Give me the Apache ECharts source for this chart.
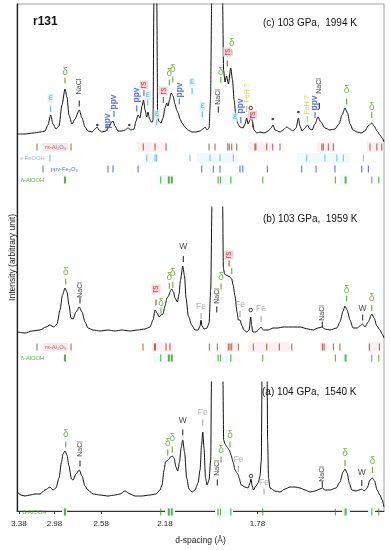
<!DOCTYPE html>
<html><head><meta charset="utf-8">
<script src="https://cdn.jsdelivr.net/npm/echarts@6/dist/echarts.min.js"></script>
<style>html,body{margin:0;padding:0;background:#fff}#c{width:390px;height:550px}</style>
</head><body><div id="c"></div>
<script>
// x data: inverse d-spacing q = 1/d (1/Å); labels shown as d-spacing
const Q_MIN = 0.2938, Q_MAX = 0.7028;
const dTicks = [3.38, 2.98, 2.58, 2.18, 1.78];

// spectra [q, intensity (stacked, arbitrary)]
const specC = [[0.2941,385],[0.3027,385],[0.3116,386],[0.3194,387],[0.3250,388],[0.3283,394],[0.3313,404],[0.3339,395],[0.3373,390],[0.3406,393],[0.3439,414],[0.3473,430],[0.3495,422],[0.3517,404],[0.3551,395],[0.3584,400],[0.3632,409],[0.3662,401],[0.3696,392],[0.3729,388],[0.3774,387],[0.3807,390],[0.3830,392],[0.3852,389],[0.3885,387],[0.3930,388],[0.3963,392],[0.3986,396],[0.4008,398],[0.4030,393],[0.4064,388],[0.4108,388],[0.4142,389],[0.4175,391],[0.4209,389],[0.4242,390],[0.4264,398],[0.4287,404],[0.4309,401],[0.4331,413],[0.4348,419],[0.4365,409],[0.4384,402],[0.4398,407],[0.4415,400],[0.4432,397],[0.4448,397],[0.4454,399],[0.4464,520],[0.4480,800],[0.4496,520],[0.4505,405],[0.4516,398],[0.4543,396],[0.4565,401],[0.4587,411],[0.4607,416],[0.4621,413],[0.4638,419],[0.4655,426],[0.4677,423],[0.4699,415],[0.4718,409],[0.4733,406],[0.4755,400],[0.4777,396],[0.4810,392],[0.4844,389],[0.4889,387],[0.4933,387],[0.4978,388],[0.5011,390],[0.5033,392],[0.5056,389],[0.5078,391],[0.5095,420],[0.5108,520],[0.5167,900],[0.5229,520],[0.5240,449],[0.5256,437],[0.5273,443],[0.5294,435],[0.5320,451],[0.5340,439],[0.5357,419],[0.5379,402],[0.5401,395],[0.5423,392],[0.5459,391],[0.5479,395],[0.5498,401],[0.5513,395],[0.5535,399],[0.5546,404],[0.5563,397],[0.5580,389],[0.5610,386],[0.5646,387],[0.5691,386],[0.5736,388],[0.5769,391],[0.5792,394],[0.5813,389],[0.5869,387],[0.5903,389],[0.5944,392],[0.5980,390],[0.6015,388],[0.6048,391],[0.6074,401],[0.6092,393],[0.6115,388],[0.6148,391],[0.6174,394],[0.6203,390],[0.6226,389],[0.6259,395],[0.6293,402],[0.6323,397],[0.6370,391],[0.6426,389],[0.6482,390],[0.6527,395],[0.6561,404],[0.6593,411],[0.6622,406],[0.6649,395],[0.6683,389],[0.6728,387],[0.6773,386],[0.6816,388],[0.6851,393],[0.6892,396],[0.6918,393],[0.6951,388],[0.6983,384],[0.7007,381],[0.7028,377]];
const specB = [[0.2941,187],[0.3027,186],[0.3105,188],[0.3194,189],[0.3261,192],[0.3305,194],[0.3350,192],[0.3384,195],[0.3417,209],[0.3445,224],[0.3473,231],[0.3495,227],[0.3517,214],[0.3540,201],[0.3562,200],[0.3595,207],[0.3632,212],[0.3662,207],[0.3696,197],[0.3729,191],[0.3785,189],[0.3863,188],[0.3952,189],[0.4030,188],[0.4108,189],[0.4197,188],[0.4287,189],[0.4365,190],[0.4420,192],[0.4454,199],[0.4476,209],[0.4498,206],[0.4524,202],[0.4543,204],[0.4565,205],[0.4587,213],[0.4610,221],[0.4627,223],[0.4643,227],[0.4662,230],[0.4682,227],[0.4699,221],[0.4725,217],[0.4744,225],[0.4760,239],[0.4785,253],[0.4805,243],[0.4822,221],[0.4847,203],[0.4885,194],[0.4922,189],[0.4956,189],[0.4978,193],[0.4989,199],[0.5000,193],[0.5022,190],[0.5056,191],[0.5078,196],[0.5097,229],[0.5112,320],[0.5167,700],[0.5229,320],[0.5238,251],[0.5251,245],[0.5268,244],[0.5290,243],[0.5312,242],[0.5331,240],[0.5346,234],[0.5368,223],[0.5390,207],[0.5405,199],[0.5423,199],[0.5446,193],[0.5466,189],[0.5498,187],[0.5524,189],[0.5543,202],[0.5554,193],[0.5565,187],[0.5602,187],[0.5636,190],[0.5658,192],[0.5683,189],[0.5736,189],[0.5792,191],[0.5847,191],[0.5903,192],[0.5980,192],[0.6092,192],[0.6182,190],[0.6238,189],[0.6293,191],[0.6335,192],[0.6370,190],[0.6426,189],[0.6502,191],[0.6537,197],[0.6572,208],[0.6593,213],[0.6617,209],[0.6649,199],[0.6683,191],[0.6728,191],[0.6760,193],[0.6789,195],[0.6816,192],[0.6851,197],[0.6892,205],[0.6918,201],[0.6948,193],[0.6983,189],[0.7007,185],[0.7028,181]];
const specA = [[0.2941,27],[0.2982,24],[0.3027,23],[0.3083,24],[0.3138,25],[0.3194,25],[0.3250,29],[0.3305,32],[0.3339,29],[0.3373,31],[0.3406,41],[0.3434,57],[0.3451,65],[0.3473,68],[0.3495,64],[0.3517,53],[0.3545,40],[0.3562,39],[0.3595,45],[0.3632,49],[0.3662,43],[0.3696,33],[0.3729,29],[0.3785,25],[0.3863,24],[0.3952,23],[0.4030,24],[0.4086,25],[0.4142,28],[0.4197,25],[0.4253,23],[0.4331,23],[0.4420,24],[0.4487,25],[0.4532,29],[0.4554,34],[0.4577,49],[0.4593,57],[0.4618,59],[0.4632,60],[0.4649,62],[0.4669,63],[0.4688,61],[0.4710,52],[0.4729,48],[0.4749,57],[0.4766,71],[0.4785,79],[0.4805,67],[0.4829,41],[0.4855,30],[0.4889,27],[0.4922,29],[0.4956,36],[0.4978,49],[0.4995,74],[0.5008,87],[0.5022,71],[0.5039,41],[0.5056,34],[0.5078,39],[0.5097,59],[0.5106,145],[0.5167,450],[0.5232,145],[0.5241,79],[0.5256,75],[0.5279,72],[0.5304,69],[0.5323,64],[0.5346,57],[0.5368,49],[0.5390,46],[0.5405,44],[0.5413,41],[0.5437,34],[0.5479,32],[0.5513,31],[0.5535,36],[0.5546,40],[0.5557,34],[0.5572,29],[0.5602,33],[0.5624,36],[0.5646,43],[0.5661,59],[0.5669,145],[0.5697,450],[0.5725,145],[0.5731,79],[0.5741,41],[0.5758,31],[0.5813,28],[0.5869,27],[0.5925,30],[0.5980,32],[0.6036,32],[0.6092,31],[0.6148,29],[0.6203,27],[0.6259,28],[0.6315,30],[0.6341,31],[0.6370,29],[0.6426,29],[0.6494,31],[0.6537,37],[0.6572,47],[0.6593,50],[0.6617,46],[0.6644,35],[0.6669,29],[0.6717,28],[0.6750,29],[0.6780,30],[0.6806,28],[0.6840,31],[0.6872,39],[0.6899,41],[0.6923,38],[0.6951,29],[0.6983,24],[0.7007,19],[0.7028,12]];

// reference reflection positions (q)
const rsC = [0.3161,0.3540,0.4346,0.4476,0.4599,0.5078,0.5145,0.5287,0.5304,0.5331,0.5387,0.5590,0.5600,0.5721,0.5788,0.5869,0.6335,0.6352,0.6408,0.6464,0.6872,0.6948,0.7003];
const epsC = [0.3305,0.4384,0.4476,0.4493,0.4866,0.5089,0.5200,0.5349,0.6167,0.6370,0.6502,0.6575,0.6798];
const ppvC = [0.3228,0.3952,0.4008,0.4287,0.4997,0.5126,0.5200,0.5423,0.5454,0.5728,0.6111,0.6271,0.6482,0.6780,0.6854];
const deltaRef = [0.3467,0.3478,0.4540,0.4625,0.4635,0.4658,0.4668,0.5179,0.5206,0.5321,0.5677,0.6486,0.6595,0.6605,0.6892,0.6970];
const rsB = [0.3161,0.3540,0.4342,0.4470,0.4481,0.4599,0.4643,0.5082,0.5171,0.5294,0.5312,0.5331,0.5405,0.5572,0.5721,0.5862,0.6000,0.6341,0.6360,0.6464,0.6537,0.6865,0.6977];

// highlighted q ranges in the reflection rows
const hlRsC = [[0.4275,0.4621],[0.5513,0.5780],[0.6282,0.6482],[0.6840,0.7019]];
const hlEpsC = [[0.4387,0.4510],[0.4944,0.5401],[0.6059,0.6649]];
const hlDeltaC = [[0.4498,0.4699],[0.5167,0.5346],[0.6537,0.6649]];
const hlRsB = [[0.4443,0.4677],[0.5257,0.5390],[0.5513,0.5981],[0.6315,0.6394],[0.6851,0.7007]];
const hlDeltaB = [[0.4454,0.4677],[0.5145,0.5346],[0.6561,0.6649]];
const hlDeltaA = [[0.3439,0.3495],[0.4588,0.4699],[0.5145,0.5346],[0.6561,0.6649],[0.6851,0.6929]];

// peak annotations: [kind, q, label level, tick level]
const annC = [['eps',0.3313,421,410],['delta',0.3473,447,438.5],['nacl',0.3632,432.5,415.5],['ppv',0.3944,398,391],['ppv',0.4019,417,405],['ppv',0.4272,424,410.5],['rs',0.4353,434,426],['eps',0.4395,424,416.5],['eps',0.4495,405,396.5],['rs',0.4569,428,419],['delta',0.4636,446,436.5],['delta',0.4674,450,439.5],['ppv',0.4747,429,417.5],['eps',0.4889,437,428],['eps',0.5004,413,404.5],['nacl',0.5182,422,409.5],['delta',0.5209,447,439],['rs',0.5282,467,455.5],['delta',0.5331,476,466.5],['eps',0.5368,402,null],['ppv',0.5432,413,399],['feh',0.5498,426,410],['o',0.5543,411,null],['rs',0.5563,404,394.5],['star',0.3833,394,null],['star',0.4190,394,null],['star',0.5788,400,null],['star',0.6074,407,null],['feh',0.6174,414,400],['ppv',0.6259,416,404],['nacl',0.6308,433,413],['delta',0.6611,429,417.5],['delta',0.6892,412,404]];
const annB = [['delta',0.3481,247,237.5],['nacl',0.3640,229,218.5],['rs',0.4487,230,216.5],['delta',0.4543,216,208.5],['delta',0.4636,242,233],['delta',0.4674,246,234],['w',0.4792,272,260],['fe',0.4989,212,203],['nacl',0.5164,223,209.5],['delta',0.5212,242,232.5],['rs',0.5301,264,255.5],['delta',0.5331,null,248],['fe',0.5423,214,205],['o',0.5543,209,null],['fe',0.5658,210,200],['nacl',0.6341,206,194.5],['delta',0.6611,229,220.5],['w',0.6789,210,201.5],['delta',0.6892,221,211]];
const annA = [['delta',0.3481,85,74.5],['nacl',0.3640,70,55.5],['delta',0.4618,76,66.5],['delta',0.4669,81,69.5],['w',0.4785,98,86.5],['fe',0.5008,106,96.5],['nacl',0.5171,51,36.5],['delta',0.5212,69,59.5],['delta',0.5312,84,74.5],['fe',0.5405,59,50],['o',0.5546,43,null],['fe',0.5691,36,27.5],['nacl',0.6341,45,34.5],['delta',0.6593,66,56],['w',0.6780,46,36],['delta',0.6899,58,49]];

// phase row labels: [kind, text, q, level]
const rowLabC = [['rs','rs-Al₂O₃',0.3222,372],['eps','ε-FeOOH',0.2945,361],['ppv','ppv-Fe₂O₃',0.3286,350],['delta','δ-AlOOH',0.2952,339]];
const rowLabB = [['rs','rs-Al₂O₃',0.3222,172],['delta','δ-AlOOH',0.2952,161]];
const rowLabA = [['delta','δ-AlOOH',0.2975,7]];

const TEXT = {delta:'δ',nacl:'NaCl',ppv:'ppv',rs:'rs',eps:'ε',fe:'Fe',w:'W',feh:'FeH ?'};
const COL = {delta:'#5aa51e',nacl:'#111',ppv:'#2f52d9',rs:'#b3262a',eps:'#46a6e6',fe:'#9a9a9a',w:'#111',feh:'#e4c51c'};
const TCOL = {delta:'#4c9a1a',nacl:'#111',ppv:'#2f52d9',rs:'#7d3d1c',eps:'#46a6e6',fe:'#9a9a9a',w:'#111',feh:'#b8b840'};
const ROWCOL = {rs:'#9a4a2e',eps:'#6aa8f0',ppv:'#3a4fd0',delta:'#3d9a1f'};
const HLCOL = {rs:'#fdeef2',eps:'#eefafc',delta:'#effbfc'};
const FONT = 'Liberation Sans, Arial, Helvetica, sans-serif';

const ranges = [[312,515],[137,312],[0,137]];
const grids = [
  {left:17,width:367,top:4,height:203},
  {left:17,width:367,top:207,height:175},
  {left:17,width:367,top:382,height:137},
  {left:17,width:367,top:4,height:515,show:true,borderColor:'#8a8a8a',borderWidth:0.8}
];
const xAxis = [0,1,2].map(i=>({type:'value',gridIndex:i,min:Q_MIN,max:Q_MAX,show:false}));
const tv = dTicks.map(d=>1/d);
xAxis.push({type:'value',gridIndex:3,min:Q_MIN,max:Q_MAX,
  axisLine:{show:true,lineStyle:{color:'#333',width:1}},
  axisTick:{show:true,customValues:tv,length:3,lineStyle:{color:'#333'}},
  axisLabel:{show:true,customValues:tv,formatter:v=>(1/v).toFixed(2),fontSize:8,color:'#222',margin:9,fontFamily:FONT},
  splitLine:{show:false},name:'d-spacing (Å)',nameLocation:'middle',nameGap:25,
  nameTextStyle:{fontSize:8.5,color:'#222',fontFamily:FONT}});
const yAxis = [0,1,2].map(i=>({type:'value',gridIndex:i,min:ranges[i][0],max:ranges[i][1],show:false}));
yAxis.push({type:'value',gridIndex:3,min:0,max:1,axisLine:{show:true,lineStyle:{color:'#222',width:1.3}},
  axisTick:{show:false},axisLabel:{show:false},splitLine:{show:false},
  name:'Intensity (arbitrary unit)',nameLocation:'middle',nameGap:0,nameRotate:90,
  nameTextStyle:{fontSize:8.5,color:'#222',fontFamily:FONT}});

const series = [];
[specC,specB,specA].forEach((s,i)=>series.push({type:'line',xAxisIndex:i,yAxisIndex:i,data:s,symbol:'none',
  smooth:0.25,smoothMonotone:'x',clip:true,lineStyle:{color:'#111',width:1},z:3,silent:true}));

function rowTicks(gi,list,level,kind,hl){
  const s = {type:'scatter',xAxisIndex:gi,yAxisIndex:gi,symbol:'rect',symbolSize:[1.1,7],
    itemStyle:{color:ROWCOL[kind]},data:list.map(q=>[q,level]),silent:true,z:4};
  if (hl) s.markArea = {silent:true,itemStyle:{color:HLCOL[kind]},z:1,
    data:hl.map(r=>[{coord:[r[0],level-5]},{coord:[r[1],level+5]}])};
  series.push(s);
}
rowTicks(0,rsC,372,'rs',hlRsC); rowTicks(0,epsC,361,'eps',hlEpsC); rowTicks(0,ppvC,350,'ppv'); rowTicks(0,deltaRef,339,'delta',hlDeltaC);
rowTicks(1,rsB,172,'rs',hlRsB); rowTicks(1,deltaRef,161,'delta',hlDeltaB);
rowTicks(2,deltaRef,7,'delta',hlDeltaA);

function rowLabels(gi,labs){
  series.push({type:'scatter',xAxisIndex:gi,yAxisIndex:gi,symbolSize:1,itemStyle:{color:'rgba(0,0,0,0)'},silent:true,z:5,
    data:labs.map(l=>({value:[l[2],l[3]],label:{show:true,position:'right',distance:0,formatter:l[1],fontSize:5.8,
      fontFamily:FONT,color:ROWCOL[l[0]],backgroundColor:l[0]==='rs'?'#fae0e6':'transparent',padding:[1,2]}}))});
}
rowLabels(0,rowLabC); rowLabels(1,rowLabB); rowLabels(2,rowLabA);

const ROT = {nacl:1,ppv:1,rs:1,feh:1};
const FS = {delta:10,nacl:7,ppv:8.5,rs:8.5,eps:9,fe:8.5,w:8.5,feh:7};
const BG = {rs:'#f6cbd5',eps:'#d2f0f7'};
function annotations(gi,ann){
  const labs = ann.filter(a=>a[2]!=null && TEXT[a[0]]).map(a=>({value:[a[1],a[2]],label:{show:true,position:'inside',
    formatter:TEXT[a[0]],color:COL[a[0]],rotate:ROT[a[0]]?90:0,fontSize:FS[a[0]],fontFamily:FONT,
    fontWeight:a[0]==='ppv'?'bold':'normal',backgroundColor:BG[a[0]]||'transparent',padding:[0,1]}}));
  series.push({type:'scatter',xAxisIndex:gi,yAxisIndex:gi,symbolSize:1,itemStyle:{color:'rgba(0,0,0,0)'},data:labs,silent:true,z:6});
  const ticks = ann.filter(a=>a[3]!=null).map(a=>({value:[a[1],a[3]],itemStyle:{color:TCOL[a[0]]}}));
  series.push({type:'scatter',xAxisIndex:gi,yAxisIndex:gi,symbol:'rect',symbolSize:[1.2,6],data:ticks,silent:true,z:6});
  const os = ann.filter(a=>a[0]==='o').map(a=>[a[1],a[2]]);
  series.push({type:'scatter',xAxisIndex:gi,yAxisIndex:gi,symbol:'circle',symbolSize:3.5,data:os,silent:true,z:6,
    itemStyle:{color:'#fff',borderColor:'#111',borderWidth:1}});
  const st = ann.filter(a=>a[0]==='star').map(a=>[a[1],a[2]]);
  series.push({type:'scatter',xAxisIndex:gi,yAxisIndex:gi,symbol:'circle',symbolSize:2.6,data:st,silent:true,z:6,itemStyle:{color:'#111'}});
}
annotations(0,annC); annotations(1,annB); annotations(2,annA);

const chart = echarts.init(document.getElementById('c'));
chart.setOption({
  animation:false,
  grid:grids, xAxis, yAxis, series,
  graphic:[
    {type:'text',left:33,top:16,style:{text:'r131',font:'bold 12px '+FONT,fill:'#111'}},
    {type:'text',left:263,top:18,style:{text:'(c) 103 GPa,  1994 K',font:'10px '+FONT,fill:'#111'}},
    {type:'text',left:263,top:214,style:{text:'(b) 103 GPa,  1959 K',font:'10px '+FONT,fill:'#111'}},
    {type:'text',left:262,top:387,style:{text:'(a) 104 GPa,  1540 K',font:'10px '+FONT,fill:'#111'}}
  ]
});
</script></body></html>
